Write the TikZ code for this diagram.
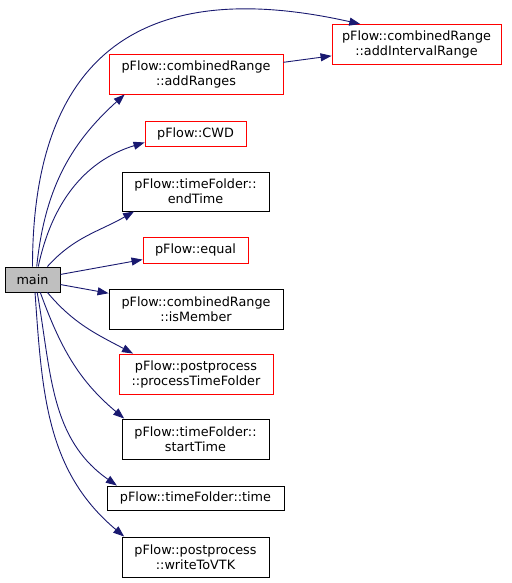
\documentclass[tikz,border=0pt]{standalone}
\usepackage{fontspec}
\setmainfont{DejaVu Sans}
\usetikzlibrary{arrows.meta}
\definecolor{edgeblue}{HTML}{191970}

\begin{document}
\begin{tikzpicture}[x=1pt, y=1pt,
		fn/.style={draw, line width=0.9pt, align=center, inner sep=0pt, font=\fontsize{12.8}{15}\selectfont},
		fnred/.style={fn, draw=red},
		call/.style={draw=edgeblue, line width=0.9pt, -{Triangle[length=11pt, width=8pt]}}]
			\useasboundingbox (0,0) rectangle (511,-583);
			\node[fn, fill=black!25, minimum width=55, minimum height=25] (main) at (32.5,-279.5) {main};
			\node[fnred, minimum width=169, minimum height=40] (addIntervalRange) at (416.5,-44.5) {pFlow::combinedRange\\::addIntervalRange};
			\node[fnred, minimum width=174, minimum height=40] (addRanges) at (196,-74) {pFlow::combinedRange\\::addRanges};
			\node[fnred, minimum width=101, minimum height=25] (cwd) at (195.5,-133.5) {pFlow::CWD};
			\node[fn, minimum width=147, minimum height=39] (endTime) at (195.5,-191.5) {pFlow::timeFolder::\\endTime};
			\node[fnred, minimum width=105, minimum height=26] (equal) at (195.5,-250) {pFlow::equal};
			\node[fn, minimum width=174, minimum height=40] (isMember) at (196,-309) {pFlow::combinedRange\\::isMember};
			\node[fnred, minimum width=154, minimum height=40] (processTimeFolder) at (196,-374) {pFlow::postprocess\\::processTimeFolder};
			\node[fn, minimum width=147, minimum height=40] (startTime) at (195.5,-439) {pFlow::timeFolder::\\startTime};
			\node[fn, minimum width=177, minimum height=24] (time) at (195.5,-498) {pFlow::timeFolder::time};
			\node[fn, minimum width=147, minimum height=40] (writeToVTK) at (195.5,-557) {pFlow::postprocess\\::writeToVTK};

			\draw[call] (main.north) .. controls +(0,262) and +(-160,36) .. (addIntervalRange.160);
			\draw[call] (addRanges) -- (addIntervalRange);
			\draw[call] (main.72) to[out=84, in=222] (addRanges.196);
			\draw[call] (main.66) to[out=78, in=197] (cwd.190);
			\draw[call] (main.41) to[out=48, in=210] (endTime.198);
			\draw[call] (main) -- (equal);
			\draw[call] (main) -- (isMember);
			\draw[call] (main.-41) to[out=-50, in=152] (processTimeFolder.162);
			\draw[call] (main.-59) to[out=-70, in=140] (startTime.164);
			\draw[call] (main.-70) to[out=-80, in=145] (time.171);
			\draw[call] (main.-79) to[out=-86, in=140] (writeToVTK.164);
		\end{tikzpicture}
\end{document}
